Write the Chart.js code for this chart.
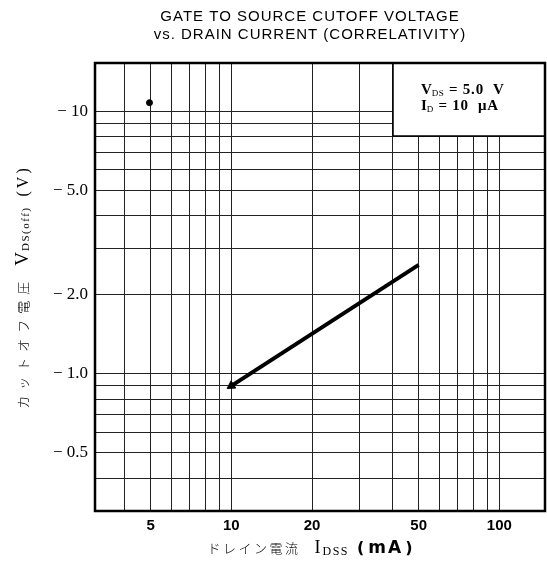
<!DOCTYPE html>
<html><head><meta charset="utf-8">
<script src="https://cdn.jsdelivr.net/npm/chart.js@4/dist/chart.umd.min.js"></script>
<style>html,body{margin:0;padding:0;background:#fff}#wrap{width:547px;height:568px}</style>
</head><body><div id="wrap"><canvas id="c" width="547" height="568"></canvas></div>
<script>
const titleLines = ['GATE TO SOURCE CUTOFF VOLTAGE', 'vs. DRAIN CURRENT (CORRELATIVITY)'];
const drainCurrent = [10, 50];          // I_DSS (mA)
const cutoffVoltage = [-0.9, -2.6];     // V_GS(off) (V)
const markCurrent = [4.95];
const markVoltage = [-10.8];
const xGridValues = [4, 5, 6, 7, 8, 9, 10, 20, 30, 40, 50, 60, 70, 80, 90, 100];
const xTickValues = [5, 10, 20, 50, 100];
const xTickLabels = ['5', '10', '20', '50', '100'];
const yGridValues = [0.4, 0.5, 0.6, 0.7, 0.8, 0.9, 1, 2, 3, 4, 5, 6, 7, 8, 9, 10];
const yTickValues = [0.5, 1, 2, 5, 10];
const yTickLabels = ['\u2212 0.5', '\u2212 1.0', '\u2212 2.0', '\u2212 5.0', '\u2212 10'];
const xRange = [3.1, 148];
const yRange = [0.315, 15.3];
const conditionLines = [['V', 'DS', ' = 5.0  V'], ['I', 'D', ' = 10  \u03bcA']];

function drawSegments(ctx, segs, x, y, align) {
  let total = 0;
  segs.forEach(s => {
    ctx.font = s.font; ctx.letterSpacing = (s.ls || 0) + 'px';
    total += ctx.measureText(s.t).width + (s.gap || 0);
  });
  let cx = align === 'center' ? x - total / 2 : x;
  ctx.textAlign = 'left';
  segs.forEach(s => {
    ctx.font = s.font; ctx.letterSpacing = (s.ls || 0) + 'px';
    ctx.fillText(s.t, cx, y + (s.dy || 0));
    cx += ctx.measureText(s.t).width + (s.gap || 0);
  });
  ctx.letterSpacing = '0px';
}

const decor = {
  id: 'decor',
  afterDraw(chart) {
    const ctx = chart.ctx, a = chart.chartArea;
    ctx.save();
    // condition box
    const bx = 393, by = a.top, bw = a.right - 393, bh = 136 - a.top;
    ctx.fillStyle = '#fff';
    ctx.fillRect(bx, by, bw, bh);
    ctx.strokeStyle = '#000';
    ctx.lineWidth = 1.5;
    ctx.strokeRect(bx, by, bw, bh);
    // frame
    ctx.lineWidth = 2.5;
    ctx.strokeRect(a.left, a.top, a.right - a.left, a.bottom - a.top);
    ctx.fillStyle = '#000';
    ctx.textBaseline = 'alphabetic';
    // condition text
    conditionLines.forEach((ln, i) => {
      drawSegments(ctx, [
        { t: ln[0], font: 'bold 15px "Liberation Serif"' },
        { t: ln[1], font: '9px "Liberation Serif"', dy: 2, ls: 0.5 },
        { t: ln[2], font: 'bold 15px "Liberation Serif"', ls: 0.8 }
      ], 421, 94 + i * 16, 'left');
    });
    // title
    ctx.font = '15px "Liberation Sans"';
    ctx.letterSpacing = '1px';
    ctx.textAlign = 'center';
    ctx.fillText(titleLines[0], 310, 21);
    ctx.fillText(titleLines[1], 310, 39);
    ctx.letterSpacing = '0px';
    // x title
    drawSegments(ctx, [
      { t: 'ドレイン電流', font: '300 13px "Noto Sans CJK JP"', ls: 2.5, gap: 14 },
      { t: 'I', font: '18px "Liberation Serif"', gap: 2 },
      { t: 'DSS', font: '12px "Liberation Serif"', dy: 2, ls: 1.5, gap: 8 },
      { t: '(', font: 'bold 16px "DejaVu Sans"', gap: 4 },
      { t: 'mA', font: 'bold 17px "DejaVu Sans"', ls: 2, gap: 2 },
      { t: ')', font: 'bold 16px "DejaVu Sans"' }
    ], 310, 553, 'center');
    // y title
    ctx.translate(28, 287);
    ctx.rotate(-Math.PI / 2);
    drawSegments(ctx, [
      { t: 'カットオフ電圧', font: '300 13px "Noto Sans CJK JP"', ls: 6, gap: 10 },
      { t: 'V', font: '19px "Liberation Serif"', gap: 1 },
      { t: 'DS(off)', font: '11px "Liberation Serif"', dy: 1, ls: 1.5, gap: 10 },
      { t: '(V)', font: '16px "Liberation Serif"', ls: 3 }
    ], 0, 0, 'center');
    ctx.restore();
  }
};

new Chart(document.getElementById('c'), {
  type: 'scatter',
  data: {
    datasets: [
      {
        data: drainCurrent.map((x, i) => ({ x: x, y: Math.abs(cutoffVoltage[i]) })),
        showLine: true,
        borderColor: '#000',
        backgroundColor: '#000',
        borderWidth: 4,
        pointStyle: ['triangle', false],
        pointRadius: [5, 0],
        pointRotation: 237,
        pointBorderWidth: 1
      },
      {
        data: markCurrent.map((x, i) => ({ x: x, y: Math.abs(markVoltage[i]) })),
        backgroundColor: '#000',
        borderColor: '#000',
        pointRadius: 3
      }
    ]
  },
  options: {
    animation: false,
    responsive: false,
    devicePixelRatio: 1,
    layout: { autoPadding: false, padding: { top: 63, right: 2, left: 0, bottom: 0 } },
    plugins: { legend: { display: false }, tooltip: { enabled: false }, title: { display: false } },
    scales: {
      x: {
        type: 'logarithmic',
        min: xRange[0], max: xRange[1],
        afterBuildTicks: s => { s.ticks = xGridValues.map(v => ({ value: v })); },
        afterFit: s => { s.height = 57; s.paddingLeft = 0; s.paddingRight = 0; },
        ticks: {
          autoSkip: false, maxRotation: 0, padding: 6, color: '#000',
          font: { family: 'Liberation Sans', weight: 'bold', size: 15 },
          callback: v => { const i = xTickValues.indexOf(v); return i >= 0 ? xTickLabels[i] : ''; }
        },
        grid: { color: '#222', lineWidth: 1, drawTicks: false },
        border: { display: false }
      },
      y: {
        type: 'logarithmic',
        min: yRange[0], max: yRange[1],
        afterBuildTicks: s => { s.ticks = yGridValues.map(v => ({ value: v })); },
        afterFit: s => { s.width = 95; s.paddingTop = 0; s.paddingBottom = 0; },
        ticks: {
          autoSkip: false, padding: 7, color: '#000',
          font: { family: 'Liberation Serif', size: 17 },
          callback: v => { const i = yTickValues.indexOf(v); return i >= 0 ? yTickLabels[i] : ''; }
        },
        grid: { color: '#222', lineWidth: 1, drawTicks: false },
        border: { display: false }
      }
    }
  },
  plugins: [decor]
});
</script></body></html>
